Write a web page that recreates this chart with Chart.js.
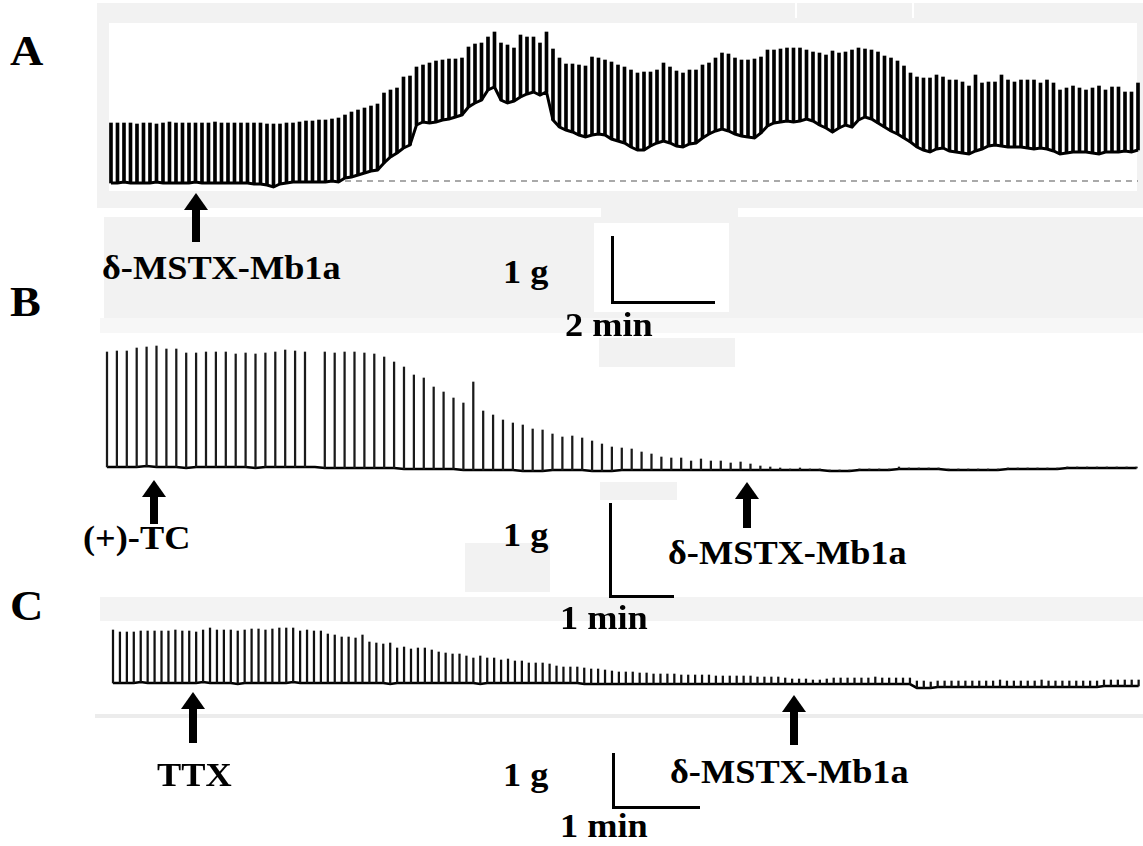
<!DOCTYPE html>
<html>
<head>
<meta charset="utf-8">
<script src="https://cdn.jsdelivr.net/npm/chart.js@4.4.1/dist/chart.umd.min.js"></script>
<style>
  body { margin: 0; background: #fff; }
  #page { position: relative; width: 1143px; height: 846px; overflow: hidden; background: #fff; }
  .box { position: absolute; }
  .lbl { position: absolute; font-family: "Liberation Serif", "Times New Roman", serif; font-weight: bold;
         color: #000; white-space: nowrap; transform-origin: 0 0; }
  .wrap { position: absolute; }
  .arrow { position: absolute; }
  .arrow .head { position: absolute; left: 0; top: 0; width: 0; height: 0;
                 border-left: 12px solid transparent; border-right: 12px solid transparent; border-bottom: 17px solid #000; }
  .arrow .shaft { position: absolute; left: 8px; top: 16px; width: 8px; background: #000; }
  .bar { position: absolute; border-left: 3px solid #000; border-bottom: 3px solid #000; }
</style>
</head>
<body>
<div id="page"></div>
<script>
// twitch tension, one value per stimulus (pen deflection units)
// A: 1 g = 66 units, B: 1 g = 87 units, C: 1 g = 53 units
const peaksA = [
  58,58,58,58,57,58,58,57,58,59,58,58,58,58,58,58,59,58,58,58,58,58,58,58,57,57,57,58,
  58,59,60,60,61,61,62,63,66,69,71,73,75,77,
  88,91,93,104,105,114,116,118,120,121,122,122,123,134,137,138,144,149,
  138,136,133,146,144,144,138,149,
  132,123,117,117,116,115,124,123,121,119,116,114,111,108,109,109,111,118,114,110,
  108,111,111,116,118,123,128,127,123,121,121,122,124,131,131,132,133,133,133,
  131,129,128,126,130,128,129,131,133,132,131,129,125,123,120,115,108,104,103,103,
  106,104,101,101,99,95,106,98,99,99,106,101,99,101,101,101,98,101,98,91,
  93,95,93,91,93,95,91,94,94,89,89,98
];
const troughsA = [
  -2,-2,-1,-2,-2,-2,-2,-1,-2,-2,-2,-2,-2,-1,-2,-2,-2,-2,-2,-2,-2,-2,-3,-3,-4,-6,-3,-2,
  -1,-1,-1,-1,-1,-1,0,-1,3,4,6,8,10,11,
  18,24,28,33,36,56,59,58,59,61,62,64,66,74,78,81,91,94,
  81,78,80,84,87,89,86,89,
  61,54,51,49,46,44,46,47,46,42,40,38,34,31,31,35,38,40,38,35,
  34,37,38,43,47,50,52,50,47,45,44,43,48,55,58,59,60,59,60,
  62,60,56,53,49,53,56,54,61,64,62,58,54,50,47,43,39,34,31,29,
  32,33,30,29,28,27,30,32,35,36,35,34,34,34,33,32,33,32,30,27,
  28,29,29,29,28,27,29,29,29,30,29,31
];
// pre-drug baseline reference in A (dashed), from stimulus 36 to the end
const refA = [36, 158];

const peaksB = [
  118,119,119,122,123,124,121,121,117,117,118,118,118,116,117,116,117,118,120,119,118,
  null,
  118,117,118,118,117,116,113,108,103,95,92,83,78,72,67,88,59,55,50,
  47,45,41,40,36,33,34,32,29,26,23,22,21,18,16,13,12,12,9,11,9,9,7,8,6,4,3,
  2,1,2,1,1,0,0,0,1,1,1,1,3,2,2,2,2,1,1,1,1,1,1,2,2,2,2,2,2,3,3,3,3,3,3,3,3
];
const troughsB = [
  3,3,3,3,4,3,3,3,2,3,3,3,3,3,3,2,3,3,3,3,3,
  3,
  2,2,2,2,2,2,2,2,1,1,1,1,1,1,0,0,0,0,0,
  0,-1,-1,-1,0,0,0,0,-1,-1,-1,0,0,0,0,0,0,0,0,0,0,0,0,0,0,0,0,
  0,0,0,0,0,-1,-1,-1,0,0,0,0,1,1,1,1,1,0,0,0,0,0,0,1,1,1,1,1,1,2,2,2,2,2,2,2,2
];

const peaksC = [
  53,51,51,51,52,52,52,52,52,53,52,52,51,53,55,53,53,53,52,53,54,54,53,54,55,55,55,52,53,52,
  52,49,48,46,46,45,48,
  41,40,39,40,35,36,34,35,35,33,31,30,29,29,27,25,27,25,25,23,24,22,22,20,20,20,19,17,16,16,
  16,15,14,14,13,12,11,11,11,
  10,10,9,9,9,9,8,8,8,8,8,7,7,7,7,7,7,6,6,6,6,5,4,4,4,3,3,4,5,5,5,5,5,5,6,5,5,5,5,5,
  2,2,1,2,2,2,2,2,2,2,2,2,3,2,2,2,2,2,3,2,2,2,2,2,2,2,2,3,3,3,3,3,3
];
const troughsC = [
  0,0,0,0,1,0,0,0,0,0,0,0,0,1,0,0,0,0,-1,0,0,0,0,0,0,0,1,0,0,0,
  0,0,0,0,0,0,0,
  0,0,0,-1,0,0,0,0,0,0,0,0,0,0,0,0,-1,0,0,0,0,0,0,0,0,0,0,0,0,0,
  0,-1,-1,-1,-1,-1,-1,-1,-1,
  -1,-1,-1,-1,-1,-1,-1,-1,-1,-1,-1,-1,-1,-1,-1,-1,-1,-1,-1,-1,-1,-1,-1,-1,-1,-1,-1,-1,-1,-1,
  -1,-1,-1,-1,-1,-1,-1,-1,-1,-1,
  -5,-5,-5,-4,-4,-4,-4,-4,-4,-4,-4,-4,-4,-4,-4,-4,-4,-4,-4,-4,-4,-4,-4,-4,-4,-4,-4,-3,-3,-3,
  -3,-3,-3
];

const page = document.getElementById("page");

function addBox(x, y, w, h, color) {
  const d = document.createElement("div");
  d.className = "box";
  d.style.cssText = `left:${x}px;top:${y}px;width:${w}px;height:${h}px;background:${color}`;
  page.appendChild(d);
}

// scanned-page grey patches
addBox(97, 3, 1046, 20, "#f2f2f2");
addBox(795, 3, 2, 15, "#ffffff");
addBox(912, 3, 2, 15, "#ffffff");
addBox(97, 23, 12, 170, "#f2f2f2");
addBox(1137, 23, 6, 170, "#f2f2f2");
addBox(97, 191, 1046, 17, "#f2f2f2");
addBox(601, 208, 137, 9, "#f2f2f2");
addBox(104, 217, 1039, 101, "#f2f2f2");
addBox(594, 223, 135, 89, "#ffffff");
addBox(100, 318, 1043, 15, "#f7f7f7");
addBox(599, 338, 136, 29, "#f2f2f2");
addBox(600, 482, 77, 18, "#f2f2f2");
addBox(465, 543, 85, 49, "#f2f2f2");
addBox(100, 597, 1043, 24, "#f3f3f3");
addBox(95, 714, 1048, 4, "#ececec");

function addLabel(text, x, base, size) {
  const d = document.createElement("div");
  d.className = "lbl";
  d.textContent = text;
  d.style.fontSize = size + "px";
  d.style.lineHeight = size + "px";
  d.style.left = x + "px";
  d.style.top = (base - 0.8375 * size) + "px";
  d.style.transform = "scaleX(1.1)";
  page.appendChild(d);
}

function addArrow(cx, tip, bottom) {
  const a = document.createElement("div");
  a.className = "arrow";
  a.style.cssText = `left:${cx - 12}px;top:${tip}px;width:24px;height:${bottom - tip}px`;
  a.innerHTML = `<div class="head"></div><div class="shaft" style="height:${bottom - tip - 16}px"></div>`;
  page.appendChild(a);
}

function addScaleBar(x, top, bottom, right) {
  const d = document.createElement("div");
  d.className = "bar";
  d.style.cssText = `left:${x}px;top:${top}px;width:${right - x}px;height:${bottom - top}px`;
  page.appendChild(d);
}

function trace(panel, peaks, troughs, style) {
  const wrap = document.createElement("div");
  wrap.className = "wrap";
  wrap.style.cssText = `left:${panel.left}px;top:${panel.top}px;width:${panel.w}px;height:${panel.h}px`;
  const cv = document.createElement("canvas");
  cv.width = panel.w;
  cv.height = panel.h;
  wrap.appendChild(cv);
  page.appendChild(wrap);

  const spikes = peaks.map((p, i) => ({ x: i, y: p === null ? null : [troughs[i], p] }));
  const base = troughs.map((t, i) => ({ x: i, y: t }));
  const datasets = [
    {
      type: "bar",
      data: spikes,
      backgroundColor: style.spike,
      borderWidth: 0,
      barThickness: style.barW,
    },
    {
      type: "line",
      data: base,
      borderColor: "#000",
      borderWidth: style.baseW,
      pointRadius: 0,
      tension: 0,
    },
  ];
  if (style.ref) {
    datasets.push({
      type: "line",
      data: style.ref.map((i) => ({ x: i, y: 0 })),
      borderColor: "#555",
      borderWidth: 1.2,
      borderDash: [6, 5],
      pointRadius: 0,
    });
  }
  return new Chart(cv, {
    type: "bar",
    data: { datasets },
    options: {
      responsive: false,
      animation: false,
      devicePixelRatio: 1,
      layout: { padding: 0 },
      plugins: { legend: { display: false }, tooltip: { enabled: false } },
      scales: {
        x: { type: "linear", offset: false, min: panel.xmin, max: panel.xmax, display: false },
        y: { min: panel.ymin, max: panel.ymax, display: false },
      },
    },
  });
}

trace({ left: 100, top: 20, w: 1043, h: 175, xmin: -1.69, xmax: 158.77, ymin: -14, ymax: 161 },
  peaksA, troughsA, { spike: "#000", barW: 3, baseW: 3, ref: refA });
trace({ left: 100, top: 330, w: 1043, h: 150, xmin: -0.707, xmax: 104.65, ymin: -10, ymax: 140 },
  peaksB, troughsB, { spike: "#1a1a1a", barW: 1.6, baseW: 2.6 });
trace({ left: 100, top: 620, w: 1043, h: 90, xmin: -1.876, xmax: 148.63, ymin: -27, ymax: 63 },
  peaksC, troughsC, { spike: "#111", barW: 1.6, baseW: 2.6 });

addArrow(196, 193, 242);
addArrow(154, 480, 524);
addArrow(747, 482, 528);
addArrow(193, 692, 743);
addArrow(794, 695, 745);

addScaleBar(611, 236, 301, 712);
addScaleBar(609, 503, 595, 671);
addScaleBar(612, 753, 806, 697);

addLabel("A", 10, 65, 42);
addLabel("B", 10, 316, 42);
addLabel("C", 10, 620, 42);
addLabel("δ-MSTX-Mb1a", 102, 280, 33);
addLabel("1 g", 503, 284, 33);
addLabel("2 min", 565, 337, 33);
addLabel("(+)-TC", 83, 550, 33);
addLabel("1 g", 503, 547, 33);
addLabel("δ-MSTX-Mb1a", 668, 565, 33);
addLabel("1 min", 560, 630, 33);
addLabel("TTX", 157, 787, 33);
addLabel("1 g", 503, 787, 33);
addLabel("δ-MSTX-Mb1a", 670, 784, 33);
addLabel("1 min", 560, 838, 33);
</script>
</body>
</html>
